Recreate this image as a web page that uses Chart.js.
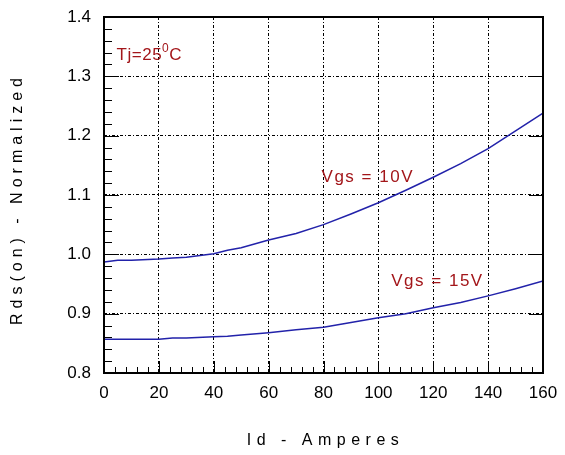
<!DOCTYPE html>
<html>
<head>
<meta charset="utf-8">
<script src="https://cdn.jsdelivr.net/npm/chart.js@4"></script>
<style>
    html, body { margin: 0; padding: 0; background: #fff; }
    #wrap { width: 565px; height: 455px; }
</style>
</head>
<body>
<div id="wrap"><canvas id="rdsChart" width="565" height="455"></canvas></div>
<script>
// Id (A) 與兩條 Vgs 曲線的數值
const idAmps = [0, 5, 10, 20, 25, 30, 40, 45, 50, 60, 70, 80, 90, 100, 110, 120, 130, 140, 150, 160];
const rdsVgs10 = [0.987, 0.990, 0.990, 0.992, 0.994, 0.995, 1.001, 1.007, 1.011, 1.024, 1.035, 1.050, 1.068, 1.087, 1.108, 1.130, 1.153, 1.178, 1.208, 1.238];
const rdsVgs15 = [0.857, 0.857, 0.857, 0.857, 0.859, 0.859, 0.861, 0.862, 0.864, 0.868, 0.873, 0.877, 0.885, 0.893, 0.900, 0.910, 0.919, 0.930, 0.942, 0.955];

const xTickValues = [0, 20, 40, 60, 80, 100, 120, 140, 160];
const yTickValues = [0.8, 0.9, 1.0, 1.1, 1.2, 1.3, 1.4];

const xTitle = "Id - Amperes";
const yTitle = "Rds(on) - Normalized";

// 曲線標註 [文字, x, y]
const curveNotes = [
    ["Vgs = 10V", 79.3, 1.130],
    ["Vgs = 15V", 104.7, 0.954]
];
const tjNote = { text: "Tj=25", sup: "0", unit: "C", x: 4.6, y: 1.335 };

const LINE_COLOR = "#2222aa";
const NOTE_COLOR = "#a3161a";

function pairs(xs, ys) {
    return xs.map((x, i) => ({ x: x, y: ys[i] }));
}

// 外框、次刻度與文字
const framePlugin = {
    id: "frame",
    afterDatasetsDraw(chart) {
        const ctx = chart.ctx;
        const area = chart.chartArea;
        const xs = chart.scales.x;
        const ys = chart.scales.y;

        ctx.save();
        ctx.strokeStyle = "#000";
        ctx.lineWidth = 1;
        ctx.beginPath();
        // bottom ticks
        for (let v = 0; v <= 160; v += 4) {
            const px = Math.round(xs.getPixelForValue(v)) + 0.5;
            const len = v % 20 === 0 ? 12 : 6;
            ctx.moveTo(px, area.bottom);
            ctx.lineTo(px, area.bottom - len);
        }
        // left and right ticks
        for (let i = 0; i <= 30; i++) {
            const v = 0.8 + i * 0.02;
            const py = Math.round(ys.getPixelForValue(v)) + 0.5;
            const major = i % 5 === 0;
            ctx.moveTo(area.left, py);
            ctx.lineTo(area.left + (major ? 15 : 8), py);
            if (major) {
                ctx.moveTo(area.right, py);
                ctx.lineTo(area.right - 14, py);
            }
        }
        ctx.stroke();

        ctx.lineWidth = 2;
        ctx.strokeRect(area.left, area.top, area.right - area.left, area.bottom - area.top);

        // annotations
        ctx.fillStyle = NOTE_COLOR;
        ctx.textBaseline = "middle";
        ctx.textAlign = "left";
        ctx.font = "17px 'Liberation Sans'";
        ctx.letterSpacing = "1.5px";
        curveNotes.forEach(([txt, x, y]) => {
            ctx.fillText(txt, xs.getPixelForValue(x), ys.getPixelForValue(y));
        });

        let tx = xs.getPixelForValue(tjNote.x);
        const ty = ys.getPixelForValue(tjNote.y);
        ctx.letterSpacing = "0.5px";
        ctx.fillText(tjNote.text, tx, ty);
        tx += ctx.measureText(tjNote.text).width;
        ctx.font = "12px 'Liberation Sans'";
        ctx.fillText(tjNote.sup, tx, ty - 7);
        tx += ctx.measureText(tjNote.sup).width;
        ctx.font = "17px 'Liberation Sans'";
        ctx.fillText(tjNote.unit, tx, ty);

        // axis titles
        ctx.fillStyle = "#000";
        ctx.font = "16px 'Liberation Sans'";
        ctx.letterSpacing = "5.5px";
        ctx.textAlign = "center";
        ctx.fillText(xTitle, (area.left + area.right) / 2 + 2, 441);
        ctx.translate(18, (area.top + area.bottom) / 2 + 4);
        ctx.rotate(-Math.PI / 2);
        ctx.letterSpacing = "5px";
        ctx.fillText(yTitle, 0, 0);
        ctx.restore();
    }
};

const ctx = document.getElementById("rdsChart").getContext("2d");

new Chart(ctx, {
    type: "line",
    data: {
        datasets: [
            {
                label: "Vgs = 10V",
                data: pairs(idAmps, rdsVgs10),
                borderColor: LINE_COLOR,
                borderWidth: 1.5,
                pointRadius: 0,
                tension: 0
            },
            {
                label: "Vgs = 15V",
                data: pairs(idAmps, rdsVgs15),
                borderColor: LINE_COLOR,
                borderWidth: 1.5,
                pointRadius: 0,
                tension: 0
            }
        ]
    },
    options: {
        responsive: false,
        animation: false,
        devicePixelRatio: 1,
        layout: { padding: { top: 17, right: 22, left: 0, bottom: 0 } },
        plugins: {
            legend: { display: false },
            tooltip: { enabled: false }
        },
        scales: {
            x: {
                type: "linear",
                min: 0,
                max: 160,
                afterBuildTicks: (scale) => { scale.ticks = xTickValues.map(v => ({ value: v })); },
                afterFit: (scale) => {
                    scale.height = 82;
                    scale.paddingLeft = 0;
                    scale.paddingRight = 0;
                },
                grid: { color: "#000", lineWidth: 1, drawTicks: false },
                border: { display: false, dash: [3, 2, 1, 2] },
                ticks: {
                    color: "#000",
                    padding: 10,
                    maxRotation: 0,
                    autoSkip: false,
                    font: { family: "Liberation Sans", size: 17 }
                }
            },
            y: {
                type: "linear",
                min: 0.8,
                max: 1.4,
                afterBuildTicks: (scale) => { scale.ticks = yTickValues.map(v => ({ value: v })); },
                afterFit: (scale) => {
                    scale.width = 104;
                    scale.paddingTop = 0;
                    scale.paddingBottom = 0;
                },
                grid: { color: "#000", lineWidth: 1, drawTicks: false },
                border: { display: false, dash: [3, 2, 1, 2] },
                ticks: {
                    color: "#000",
                    padding: 13,
                    autoSkip: false,
                    font: { family: "Liberation Sans", size: 17 },
                    callback: (v) => Number(v).toFixed(1)
                }
            }
        }
    },
    plugins: [framePlugin]
});
</script>
</body>
</html>
